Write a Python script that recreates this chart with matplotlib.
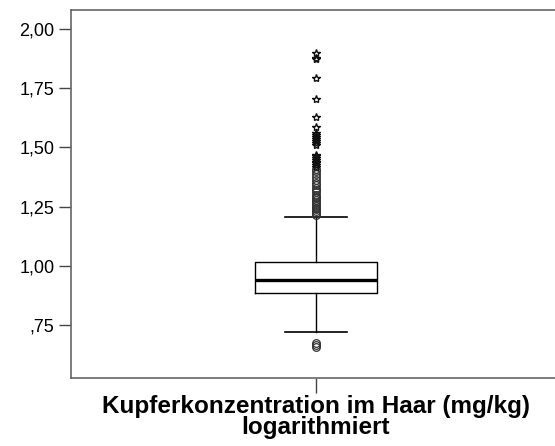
import matplotlib
matplotlib.use("Agg")
import matplotlib.pyplot as plt

# box statistics (log copper concentration in hair)
q1 = 0.887
median = 0.938
q3 = 1.014
whisker_low = 0.720
whisker_high = 1.205

# moderate outliers (circles) and extreme outliers (stars)
circle_low = [0.675, 0.664, 0.656]
circle_high = [1.215, 1.222, 1.230, 1.238, 1.245, 1.252, 1.260, 1.268, 1.276,
               1.284, 1.292, 1.300, 1.310, 1.320, 1.330, 1.340, 1.350, 1.362,
               1.375, 1.388, 1.400, 1.410]
stars = [1.418, 1.425, 1.432, 1.440, 1.448, 1.455, 1.462, 1.468, 1.510, 1.518,
         1.527, 1.535, 1.545, 1.553, 1.561, 1.585, 1.630, 1.704, 1.794, 1.872,
         1.878, 1.900]

yticks = [0.75, 1.00, 1.25, 1.50, 1.75, 2.00]
ytick_labels = [",75", "1,00", "1,25", "1,50", "1,75", "2,00"]
xlabel = "Kupferkonzentration im Haar (mg/kg)\nlogarithmiert"

plt.rcParams['font.family'] = ['Liberation Sans', 'DejaVu Sans']

fig = plt.figure(figsize=(5.55, 4.46), dpi=100)
ax = fig.add_axes([71 / 555, 68 / 446, 490 / 555, 368 / 446])

stats = [{
    "med": median, "q1": q1, "q3": q3,
    "whislo": whisker_low, "whishi": whisker_high,
    "fliers": circle_low + circle_high,
}]
ax.bxp(stats, positions=[1], widths=0.5, showfliers=True,
       boxprops=dict(color="black", linewidth=1.0),
       medianprops=dict(color="black", linewidth=2.4),
       whiskerprops=dict(color="black", linewidth=1.0),
       capprops=dict(color="black", linewidth=1.2),
       capwidths=0.25,
       flierprops=dict(marker="o", markersize=5.5, markerfacecolor="none",
                       markeredgecolor="#333333", markeredgewidth=0.9))
ax.plot([1] * len(stars), stars, linestyle="none", marker="*", markersize=6,
        markerfacecolor="none", markeredgecolor="#111111", markeredgewidth=1.0)

ax.set_xlim(0.0, 2.0)
ax.set_ylim(0.526, 2.08)
ax.set_yticks(yticks)
ax.set_yticklabels(ytick_labels, fontsize=13)
ax.set_xticks([1])
ax.set_xticklabels([xlabel], fontsize=17.5, fontweight="bold", linespacing=0.9)

for side in ["left", "bottom", "top", "right"]:
    ax.spines[side].set_color("#666666")
    ax.spines[side].set_linewidth(1.2)
ax.tick_params(axis="y", length=9, width=1.0, color="#444444", pad=3)
ax.tick_params(axis="x", length=11, width=1.0, color="#444444", pad=1)

fig.savefig("out.png", dpi=100)
